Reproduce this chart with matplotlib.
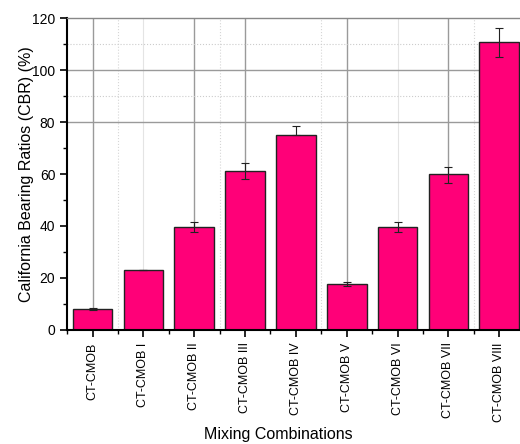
import numpy as np
from matplotlib import pyplot as plt
from matplotlib.ticker import MultipleLocator

plt.rcParams['font.family'] = ['Liberation Sans', 'DejaVu Sans']

mixes = ['CT-CMOB', 'CT-CMOB I', 'CT-CMOB II', 'CT-CMOB III', 'CT-CMOB IV',
         'CT-CMOB V', 'CT-CMOB VI', 'CT-CMOB VII', 'CT-CMOB VIII']
cbr = [8.1, 23.1, 39.5, 61.2, 75.0, 17.7, 39.5, 59.9, 110.7]
err_low = [0.3, 0.0, 2.0, 3.1, 0.0, 0.9, 2.0, 3.2, 5.6]
err_high = [0.3, 0.0, 2.1, 3.0, 3.5, 0.9, 2.0, 2.9, 5.4]

bar_color = '#ff0078'

fig = plt.figure(figsize=(5.2, 4.44), dpi=100)
ax = fig.add_axes([0.129, 0.257, 0.88, 0.702])

x = np.arange(len(mixes))

# grid lines sit behind the bars
for gx in [0, 2, 3, 5, 7]:
    ax.axvline(gx, color='#9a9a9a', lw=1.0, zorder=0)
for gx in [1, 6]:
    ax.axvline(gx, color='#e4e4e4', lw=0.8, zorder=0)
for gx in [0.5, 2.5, 4.5, 7.5]:
    ax.axvline(gx, color='#d6d6d6', lw=0.8, ls=':', zorder=0)
for gy in [80, 100]:
    ax.axhline(gy, color='#9a9a9a', lw=1.0, zorder=0)
for gy in [90, 110]:
    ax.axhline(gy, color='#cccccc', lw=0.8, ls=':', zorder=0)

ax.bar(x, cbr, width=0.78, color=bar_color, edgecolor='#222222', linewidth=1.0, zorder=2)
ax.errorbar(x, cbr, yerr=[err_low, err_high], fmt='none', ecolor='#222222',
            elinewidth=0.8, capsize=3, capthick=0.8, zorder=3)

ax.set_xlim(-0.5, 8.5)
ax.set_ylim(0, 120)
ax.set_xticks(x)
ax.set_xticklabels(mixes, rotation=90, fontsize=9)
ax.xaxis.set_minor_locator(MultipleLocator(1, offset=0.5))
ax.yaxis.set_major_locator(MultipleLocator(20))
ax.yaxis.set_minor_locator(MultipleLocator(10))
ax.tick_params(axis='y', which='major', labelsize=10, length=5, width=1.2, direction='out')
ax.tick_params(axis='y', which='minor', length=3, width=1.0, direction='out')
ax.tick_params(axis='x', which='major', length=5, width=1.2, direction='out', pad=4)
ax.tick_params(axis='x', which='minor', length=3, width=1.0, direction='out')

for side in ['left', 'bottom']:
    ax.spines[side].set_linewidth(1.5)
    ax.spines[side].set_color('black')
ax.spines['top'].set_color('#888888')
ax.spines['top'].set_linewidth(1.0)
ax.spines['right'].set_color('#888888')

ax.set_xlabel('Mixing Combinations', fontsize=11.5, va='center')
ax.xaxis.set_label_coords(0.461, -0.337)
ax.set_ylabel('California Bearing Ratios (CBR) (%)', fontsize=11.5, va='center')
ax.yaxis.set_label_coords(-0.088, 0.5)

fig.savefig('out.png', dpi=100)
